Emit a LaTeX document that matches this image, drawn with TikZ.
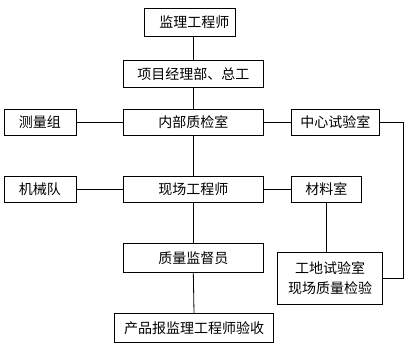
\documentclass[tikz,border=0pt]{standalone}
\usepackage{fontspec}
\setmainfont{Noto Sans CJK SC}
\begin{document}
\begin{tikzpicture}[x=1pt,y=-1pt,
  box/.style={draw,line width=0.8pt,inner sep=0pt,font=\fontsize{14}{20}\selectfont,align=center},
  conn/.style={line width=0.8pt}]
\useasboundingbox (0,0) rectangle (410,349);
\node[box,minimum width=91pt,minimum height=27.7pt] (A) at (189.8,22.2) {\hspace{9pt}监理工程师};
\node[box,minimum width=140pt,minimum height=27pt] (B) at (193.3,73.8) {项目经理部、总工};
\node[box,minimum width=140pt,minimum height=26.3pt] (C) at (193.3,122.2) {内部质检室};
\node[box,minimum width=72pt,minimum height=26pt] (D) at (40,122.2) {测量组};
\node[box,minimum width=88pt,minimum height=26pt] (E) at (335.3,122.2) {中心试验室};
\node[box,minimum width=72pt,minimum height=26.5pt] (F) at (40,189.3) {机械队};
\node[box,minimum width=140pt,minimum height=26.5pt] (G) at (193.3,189.3) {现场工程师};
\node[box,minimum width=70pt,minimum height=26.5pt] (H) at (326.3,189.3) {材料室};
\node[box,minimum width=140pt,minimum height=28.7pt] (I) at (193.3,257.7) {质量监督员};
\node[box,minimum width=104.6pt,minimum height=52.3pt] (J) at (330,278.2) {工地试验室\\现场质量检验};
\node[box,minimum width=159.4pt,minimum height=29.4pt] (K) at (194,328) {产品报监理工程师验收};
\coordinate (R1) at (403.3,122.2);
\draw[conn] (B.north) -- (B.north |- A.south);
\draw[conn] (B.south) -- (C.north);
\draw[conn] (C.south) -- (G.north);
\draw[conn] (G.south) -- (I.north);
\draw[conn] (I.south) -- (K.north);
\draw[conn] (D.east) -- (C.west);
\draw[conn] (C.east) -- (E.west);
\draw[conn] (F.east) -- (G.west);
\draw[conn] (G.east) -- (H.west);
\draw[conn] (H.south) -- (H.south |- J.north);
\draw[conn] (E.east) -- (R1) |- (J.east);
\end{tikzpicture}
\end{document}
